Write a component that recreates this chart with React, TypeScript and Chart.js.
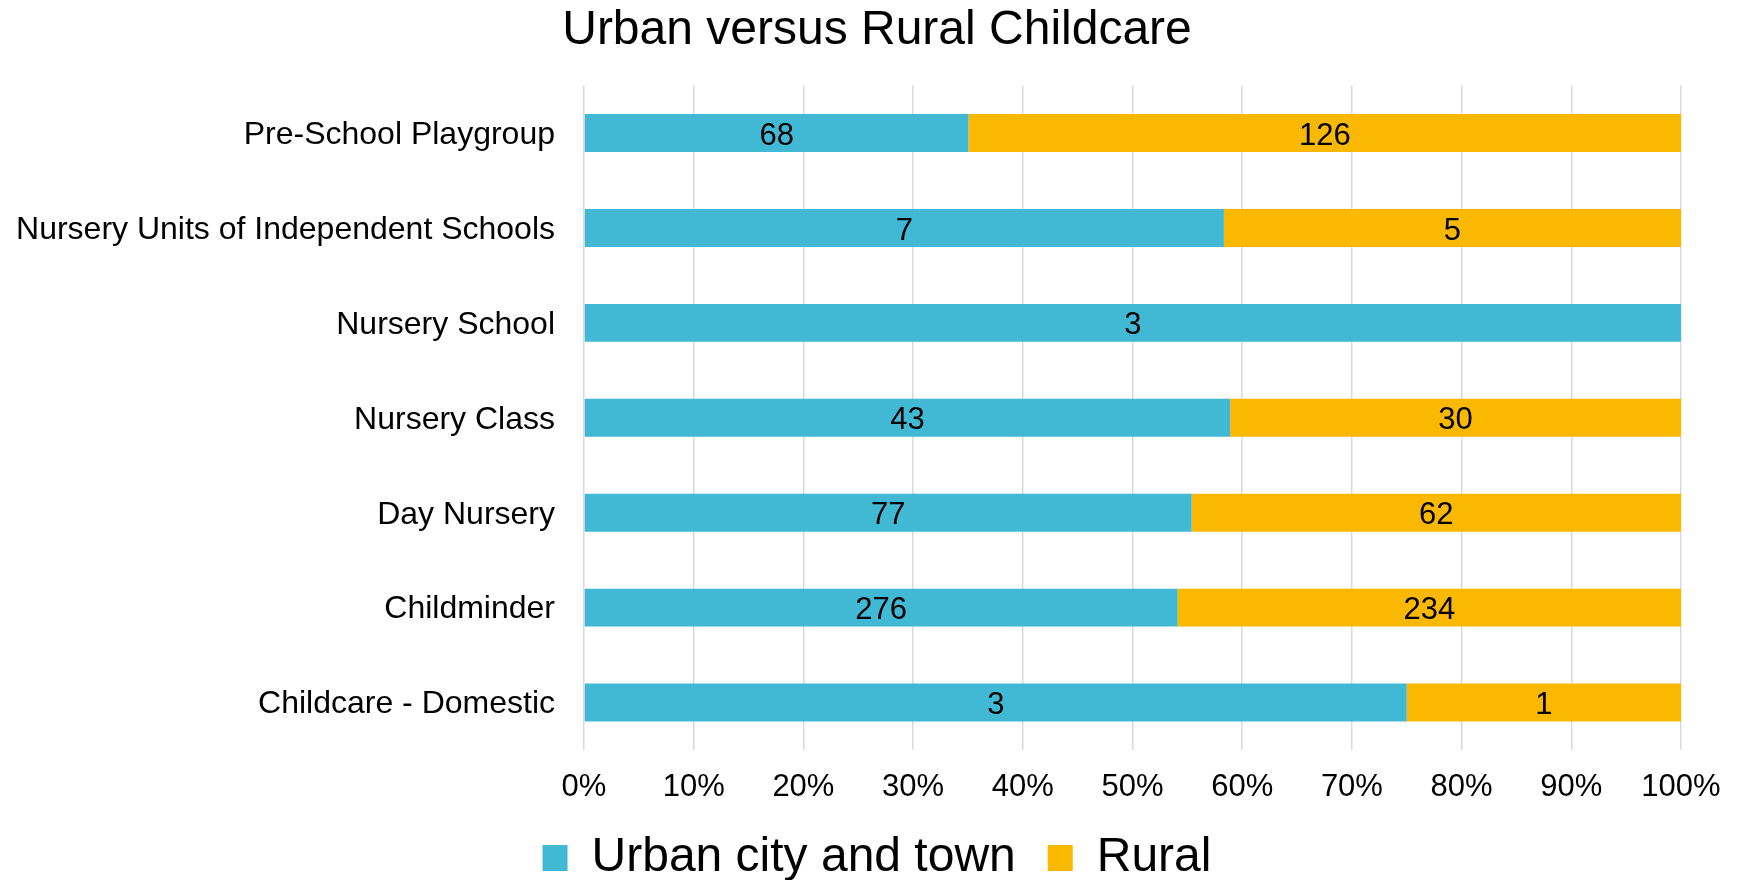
import React, { useEffect, useRef } from "react";
import { Chart, registerables } from "chart.js";

Chart.register(...registerables);

const categories = [
  "Pre-School Playgroup",
  "Nursery Units of Independent Schools",
  "Nursery School",
  "Nursery Class",
  "Day Nursery",
  "Childminder",
  "Childcare - Domestic",
];
const urban = [68, 7, 3, 43, 77, 276, 3];
const rural = [126, 5, 0, 30, 62, 234, 1];
const seriesNames = ["Urban city and town", "Rural"];
const seriesColors = ["#42B9D4", "#FAB900"];
const xTicks = [0, 10, 20, 30, 40, 50, 60, 70, 80, 90, 100];

const FONT = "'Liberation Sans', Arial, sans-serif";

const totals = urban.map((u, i) => u + rural[i]);
const pct = (arr: number[]) => arr.map((v, i) => (totals[i] ? (v / totals[i]) * 100 : 0));
const rawValues = [urban, rural];

const dataLabelPlugin = {
  id: "dataLabels",
  afterDatasetsDraw(chart: any) {
    const ctx = chart.ctx;
    ctx.save();
    ctx.font = `31px ${FONT}`;
    ctx.fillStyle = "#000";
    ctx.textAlign = "center";
    ctx.textBaseline = "middle";
    chart.data.datasets.forEach((ds: any, di: number) => {
      const meta = chart.getDatasetMeta(di);
      meta.data.forEach((el: any, i: number) => {
        const v = rawValues[di][i];
        if (!v) return;
        const cx = (el.x + el.base) / 2;
        ctx.fillText(String(v), cx, el.y + 3);
      });
    });
    ctx.restore();
  },
};

export default function App() {
  const ref = useRef<HTMLCanvasElement | null>(null);
  useEffect(() => {
    if (!ref.current) return;
    const chart = new Chart(ref.current, {
      type: "bar",
      data: {
        labels: categories,
        datasets: [
          {
            label: seriesNames[0],
            data: pct(urban),
            backgroundColor: seriesColors[0],
            barPercentage: 0.4,
            categoryPercentage: 1.0,
          },
          {
            label: seriesNames[1],
            data: pct(rural),
            backgroundColor: seriesColors[1],
            barPercentage: 0.4,
            categoryPercentage: 1.0,
          },
        ],
      },
      options: {
        indexAxis: "y",
        animation: false,
        responsive: true,
        maintainAspectRatio: false,
        layout: { padding: { left: 17, right: 17, top: 0, bottom: -12 } },
        plugins: {
          title: {
            display: true,
            text: "Urban versus Rural Childcare",
            color: "#000",
            font: { family: FONT, size: 48, weight: "normal" },
            padding: { top: 2, bottom: 26 },
          },
          legend: {
            display: true,
            position: "bottom",
            labels: {
              color: "#000",
              font: { family: FONT, size: 48 },
              boxWidth: 25,
              boxHeight: 26,
              padding: 32,
            },
          },
          tooltip: { enabled: false },
        },
        scales: {
          x: {
            stacked: true,
            min: 0,
            max: 100,
            border: { display: false },
            grid: { color: "#d9d9d9", lineWidth: 1.5, drawTicks: false },
            afterBuildTicks(scale: any) {
              scale.ticks = xTicks.map((v) => ({ value: v }));
            },
            ticks: {
              color: "#000",
              font: { family: FONT, size: 31 },
              padding: 19,
              callback: (v: any) => `${v}%`,
            },
            afterFit(scale: any) {
              scale.height = 52;
            },
          },
          y: {
            stacked: true,
            border: { display: false },
            grid: { display: false, drawTicks: false },
            ticks: {
              color: "#000",
              font: { family: FONT, size: 32 },
              padding: 29,
              labelOffset: 2,
            },
            afterFit(scale: any) {
              scale.width = 567;
            },
          },
          yRight: {
            type: "linear",
            position: "right",
            display: true,
            border: { display: false },
            grid: { display: false, drawTicks: false },
            ticks: { display: false },
            afterFit(scale: any) {
              scale.width = 56;
            },
          },
        },
      },
      plugins: [dataLabelPlugin],
    });
    return () => chart.destroy();
  }, []);
  return (
    <div style={{ position: "absolute", left: 0, top: 0, width: 1754, height: 880, background: "#fff" }}>
      <canvas ref={ref} />
    </div>
  );
}
